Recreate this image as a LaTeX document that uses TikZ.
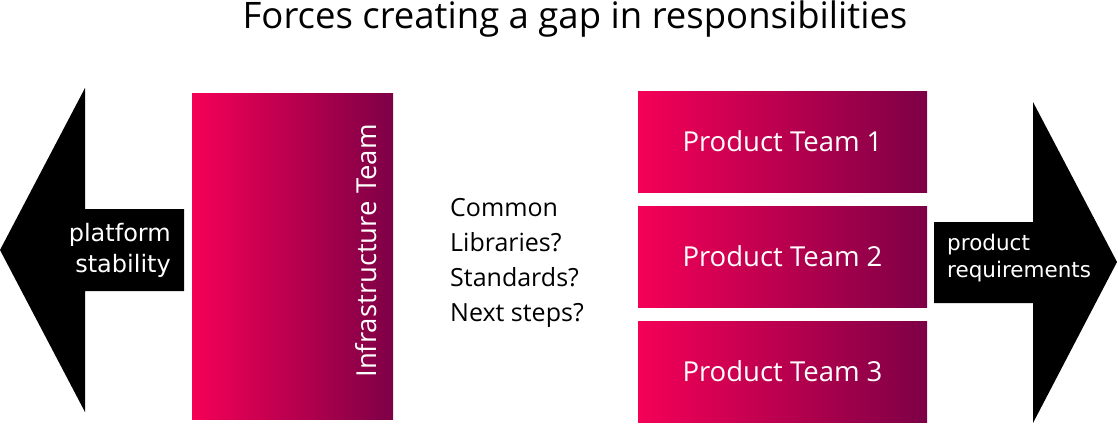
\documentclass[tikz,border=0pt]{standalone}
\usepackage{fontspec}
\setmainfont{Open Sans}
\newfontfamily\arrowfont{DejaVu Sans}
\usetikzlibrary{positioning}
\definecolor{teamleft}{RGB}{245,0,87}
\definecolor{teamright}{RGB}{125,0,70}
\tikzset{
  team/.style={left color=teamleft, right color=teamright, draw=none, inner sep=0pt},
  teamtext/.style={text=white, font=\fontsize{27.5}{32}\selectfont, inner sep=0pt},
  arrowtext/.style={text=white, inner sep=0pt},
}
\begin{document}
\begin{tikzpicture}[x=1pt,y=-1pt]
  \useasboundingbox (0,0) rectangle (1118,426);
  % Title
  \node[font=\fontsize{36.5}{40}\selectfont] (title) at (575,19) {Forces creating a gap in responsibilities};
  % Left arrow
  \fill (0,250) -- (85,88) -- (85,209) -- (184,209) -- (184,291) -- (85,291) -- (85,412) -- cycle;
  \node[arrowtext, anchor=east, align=right, font=\arrowfont\fontsize{24}{31}\selectfont] (platform) at (171,250) {platform\\stability};
  % Right arrow
  \fill (1117,262) -- (1033,102) -- (1033,222) -- (934,222) -- (934,303) -- (1033,303) -- (1033,423) -- cycle;
  \node[arrowtext, anchor=west, align=left, font=\arrowfont\fontsize{21.5}{27}\selectfont] (product) at (947,258) {product\\requirements};
  % Infrastructure team
  \node[team, minimum width=201pt, minimum height=326pt] (infra) at (292.5,256) {};
  \node[teamtext, rotate=90] (infralabel) at (366,251) {Infrastructure Team};
  % Product teams
  \node[team, minimum width=289pt, minimum height=101pt] (team1) at (782.5,141.5) {};
  \node[team, minimum width=289pt, minimum height=101pt] (team2) at (782.5,256.5) {};
  \node[team, minimum width=289pt, minimum height=101pt] (team3) at (782.5,371.5) {};
  \node[teamtext] at (team1) {Product Team 1};
  \node[teamtext] at (team2) {Product Team 2};
  \node[teamtext] at (team3) {Product Team 3};
  % Questions
  \node[anchor=west, align=left, inner sep=0pt, font=\fontsize{25}{35}\selectfont] (questions) at (450,263) {Common\\Libraries?\\Standards?\\Next steps?};
\end{tikzpicture}
\end{document}
